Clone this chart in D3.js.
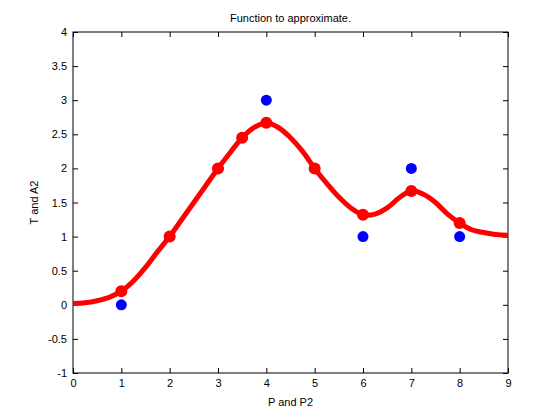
<!DOCTYPE html>
<html><head><meta charset="utf-8">
<script src="https://d3js.org/d3.v7.min.js"></script>
<style>body{margin:0;background:#fff}text{font-family:"Liberation Sans",Arial,sans-serif;font-size:11px}</style>
</head><body>
<script>
var targetX = [1, 2, 3, 4, 5, 6, 7, 8];
var targetY = [0, 1, 2, 3, 2, 1, 2, 1];
var sampleX = [1, 2, 3, 3.5, 4, 5, 6, 7, 8];
var sampleY = [0.2, 1, 2, 2.45, 2.67, 2, 1.32, 1.67, 1.2];
var curveX = [0, 0.25, 0.5, 0.75, 1, 1.25, 1.5, 1.75, 2, 2.25, 2.5, 2.75, 3, 3.25, 3.5, 3.75, 4, 4.25, 4.5, 4.75, 5, 5.25, 5.5, 5.75, 6, 6.25, 6.5, 6.75, 7, 7.25, 7.5, 7.75, 8, 8.25, 8.5, 8.75, 9];
var curveY = [0.02, 0.03, 0.06, 0.11, 0.2, 0.35, 0.55, 0.78, 1.0, 1.25, 1.5, 1.75, 2.0, 2.23, 2.45, 2.6, 2.67, 2.6, 2.45, 2.25, 2.0, 1.78, 1.58, 1.42, 1.32, 1.33, 1.42, 1.57, 1.67, 1.62, 1.5, 1.33, 1.2, 1.1, 1.06, 1.03, 1.02];
var xTicks = [0, 1, 2, 3, 4, 5, 6, 7, 8, 9];
var yTicks = [-1, -0.5, 0, 0.5, 1, 1.5, 2, 2.5, 3, 3.5, 4];

var L = 73, R = 508, T = 32, B = 373;
var svg = d3.select("body").append("svg").attr("width", 560).attr("height", 420);
var x = d3.scaleLinear().domain([0, 9]).range([L, R]);
var y = d3.scaleLinear().domain([-1, 4]).range([B, T]);

svg.append("rect").attr("x", L).attr("y", T).attr("width", R - L).attr("height", B - T)
  .attr("fill", "#fff").attr("stroke", "#000");

var xa = svg.append("g").attr("transform", "translate(0," + B + ")")
  .call(d3.axisBottom(x).tickValues(xTicks).tickSize(-5).tickPadding(6).tickFormat(d3.format("d")));
var xt = svg.append("g").attr("transform", "translate(0," + T + ")")
  .call(d3.axisTop(x).tickValues(xTicks).tickSize(-5).tickFormat(""));
var ya = svg.append("g").attr("transform", "translate(" + L + ",0)")
  .call(d3.axisLeft(y).tickValues(yTicks).tickSize(-5).tickPadding(6).tickFormat(function (d) { return d; }));
var yr = svg.append("g").attr("transform", "translate(" + R + ",0)")
  .call(d3.axisRight(y).tickValues(yTicks).tickSize(-5).tickFormat(""));
svg.selectAll(".domain").remove();
svg.selectAll(".tick text").attr("fill", "#000").style("font-size", "11px");

var pts = curveX.map(function (d, i) { return [d, curveY[i]]; });
svg.append("path").datum(pts)
  .attr("d", d3.line().x(function (d) { return x(d[0]); }).y(function (d) { return y(d[1]); }).curve(d3.curveCatmullRom))
  .attr("fill", "none").attr("stroke", "#f00").attr("stroke-width", 5);

svg.selectAll(".t").data(targetX).enter().append("circle")
  .attr("cx", function (d) { return x(d); })
  .attr("cy", function (d, i) { return y(targetY[i]); })
  .attr("r", 5.5).attr("fill", "#0000ff");

svg.selectAll(".s").data(sampleX).enter().append("circle")
  .attr("cx", function (d) { return x(d); })
  .attr("cy", function (d, i) { return y(sampleY[i]); })
  .attr("r", 6).attr("fill", "#f00");

svg.append("text").attr("x", (L + R) / 2).attr("y", 22).attr("text-anchor", "middle").text("Function to approximate.");
svg.append("text").attr("x", (L + R) / 2).attr("y", 406).attr("text-anchor", "middle").text("P and P2");
svg.append("text").attr("transform", "translate(38," + ((T + B) / 2) + ") rotate(-90)").attr("text-anchor", "middle").text("T and A2");
</script>
</body></html>
